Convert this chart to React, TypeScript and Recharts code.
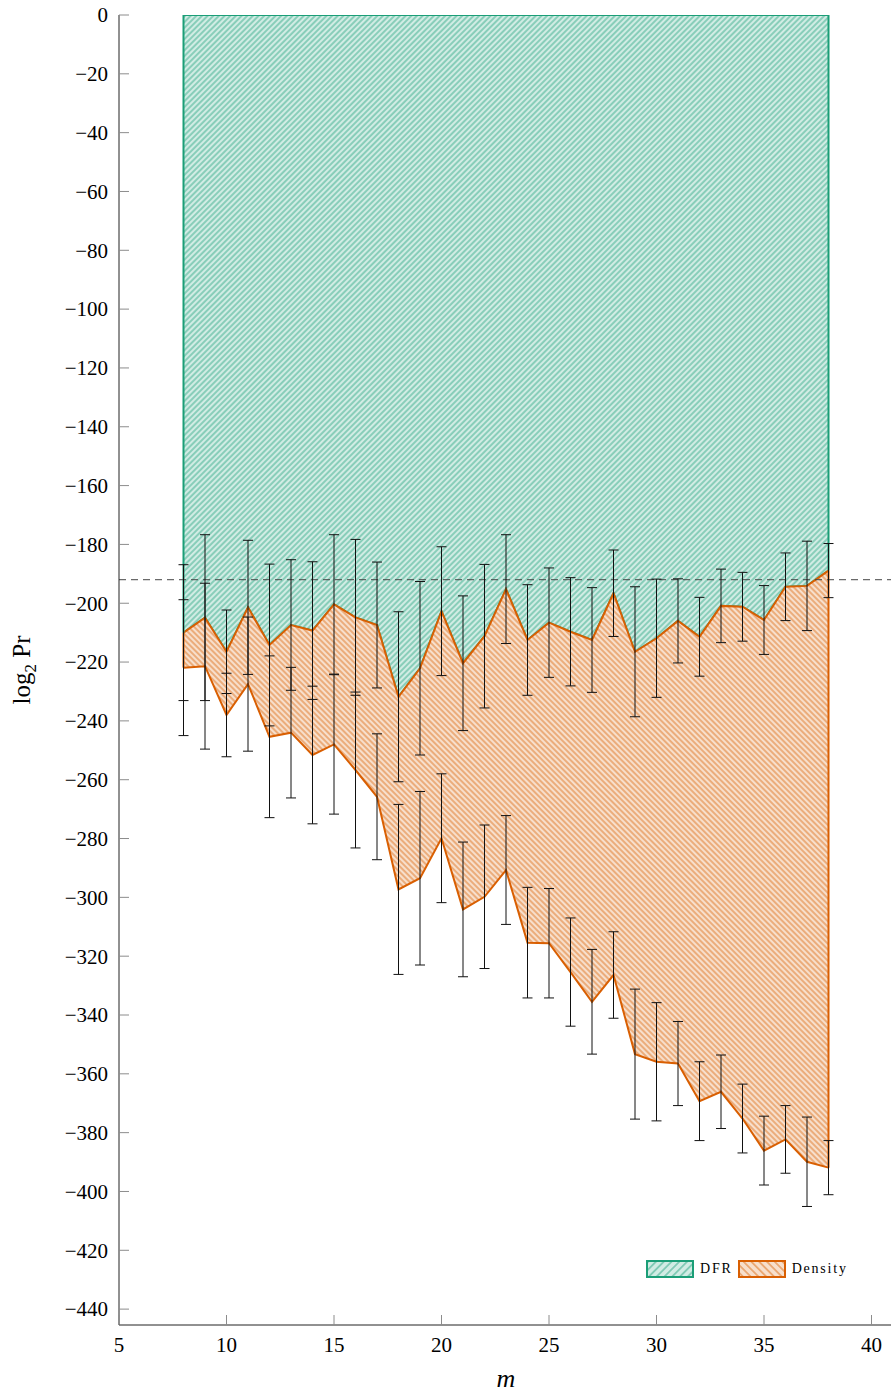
import React from "react";
import {
  ComposedChart,
  Area,
  Line,
  XAxis,
  YAxis,
  ReferenceLine,
  ErrorBar,
  Label,
} from "recharts";

// m = 8 .. 38
const mValues = [
  8, 9, 10, 11, 12, 13, 14, 15, 16, 17, 18, 19, 20, 21, 22, 23, 24, 25, 26, 27,
  28, 29, 30, 31, 32, 33, 34, 35, 36, 37, 38,
];
const dfrValues = [
  -210.0, -204.9, -216.5, -201.4, -214.2, -207.4, -209.3, -200.4, -204.8,
  -207.4, -231.8, -222.1, -202.7, -220.4, -211.2, -195.2, -212.5, -206.6,
  -209.7, -212.5, -196.6, -216.5, -211.9, -206.0, -211.4, -200.9, -201.2,
  -205.7, -194.4, -194.1, -188.9,
];
const densityValues = [
  -221.9, -221.4, -238.0, -227.5, -245.4, -244.0, -251.6, -248.0, -256.7,
  -265.8, -297.3, -293.5, -279.9, -304.1, -299.8, -290.7, -315.4, -315.6,
  -325.4, -335.5, -326.4, -353.3, -355.9, -356.5, -369.3, -366.1, -375.2,
  -386.1, -382.3, -389.9, -391.9,
];
// half height of the error bars (same for both series)
const errValues = [
  23.1, 28.2, 14.2, 22.8, 27.5, 22.2, 23.4, 23.7, 26.5, 21.4, 28.9, 29.5, 21.9,
  22.9, 24.4, 18.5, 18.8, 18.6, 18.4, 17.8, 14.7, 22.1, 20.1, 14.3, 13.4, 12.5,
  11.7, 11.7, 11.5, 15.2, 9.2,
];
const xTicks = [5, 10, 15, 20, 25, 30, 35, 40];
const yTicks = [
  0, -20, -40, -60, -80, -100, -120, -140, -160, -180, -200, -220, -240, -260,
  -280, -300, -320, -340, -360, -380, -400, -420, -440,
];
const dashedLevel = -192;

const GREEN = "#1b9e77";
const GREEN_FILL = "#d1ece4";
const ORANGE = "#d95f02";
const ORANGE_FILL = "#f7dfcc";
const FONT = "'Liberation Serif', 'DejaVu Serif', serif";

const data = mValues.map((m, i) => ({
  m,
  dfr: dfrValues[i],
  density: densityValues[i],
  err: errValues[i],
  dfrBand: [0, dfrValues[i]],
  densityBand: [densityValues[i], dfrValues[i]],
}));

const first = data[0];
const last = data[data.length - 1];

const fmt = (v: number) => (v < 0 ? "\u2212" + Math.abs(v) : String(v));

const LeftTick = (props: any) => {
  const { x, y, payload } = props;
  return (
    <g>
      <line x1={x + 11} x2={x + 21} y1={y} y2={y} stroke="#8c8c8c" />
      <text
        x={x}
        y={y}
        dy="0.35em"
        textAnchor="end"
        fontSize={21}
        fontFamily={FONT}
        fill="#000"
      >
        {fmt(payload.value)}
      </text>
    </g>
  );
};

const RightTick = (props: any) => {
  const { x, y } = props;
  return <line x1={x - 10} x2={x} y1={y} y2={y} stroke="#8c8c8c" />;
};

const BottomTick = (props: any) => {
  const { x, y, payload } = props;
  return (
    <g>
      <line x1={x} x2={x} y1={y - 12} y2={y - 22} stroke="#8c8c8c" />
      <text
        x={x}
        y={y}
        dy="0.71em"
        textAnchor="middle"
        fontSize={21}
        fontFamily={FONT}
        fill="#000"
      >
        {payload.value}
      </text>
    </g>
  );
};

const TopTick = (props: any) => {
  const { x, y } = props;
  return <line x1={x} x2={x} y1={y} y2={y + 10} stroke="#8c8c8c" />;
};

const Hatch = ({ id, color, bg, angle, size = 4 }: any) => (
  <pattern
    id={id}
    patternUnits="userSpaceOnUse"
    width={size}
    height={size}
    patternTransform={`rotate(${angle})`}
  >
    <rect width={size} height={size} fill={bg} />
    <line
      x1={size / 2}
      y1={0}
      x2={size / 2}
      y2={size}
      stroke={color}
      strokeWidth={0.8}
    />
  </pattern>
);

const Swatch = ({ id, color, bg, angle }: any) => (
  <svg width={48} height={18} style={{ display: "block" }}>
    <defs>
      <Hatch id={id} color={color} bg={bg} angle={angle} size={5.5} />
    </defs>
    <rect
      x={1}
      y={1}
      width={46}
      height={16}
      fill={`url(#${id})`}
      stroke={color}
      strokeWidth={2}
    />
  </svg>
);

export default function App() {
  return (
    <div
      style={{
        position: "absolute",
        left: 0,
        top: 0,
        width: 891,
        height: 1394,
        overflow: "hidden",
        background: "#fff",
      }}
    >
      <ComposedChart
        width={900}
        height={1394}
        data={data}
        margin={{ top: 15, right: 7, bottom: 0, left: 0 }}
      >
        <defs>
          <Hatch id="hatchGreen" color={GREEN} bg={GREEN_FILL} angle={45} />
          <Hatch id="hatchOrange" color={ORANGE} bg={ORANGE_FILL} angle={-45} />
        </defs>
        <XAxis
          dataKey="m"
          type="number"
          domain={[5, 41]}
          ticks={xTicks}
          allowDataOverflow
          height={69}
          tickSize={0}
          tickMargin={12}
          tickLine={false}
          tick={<BottomTick />}
          axisLine={{ stroke: "#222" }}
        >
          <Label
            content={(p: any) => {
              const vb = p.viewBox;
              return (
                <text
                  x={vb.x + vb.width / 2}
                  y={1387}
                  textAnchor="middle"
                  fontSize={26}
                  fontStyle="italic"
                  fontFamily={FONT}
                  fill="#000"
                >
                  m
                </text>
              );
            }}
          />
        </XAxis>
        <XAxis
          xAxisId="t"
          dataKey="m"
          type="number"
          orientation="top"
          domain={[5, 41]}
          ticks={xTicks}
          allowDataOverflow
          height={0}
          tickSize={0}
          tickMargin={0}
          tickLine={false}
          tick={<TopTick />}
          axisLine={{ stroke: "#222" }}
        />
        <YAxis
          type="number"
          domain={[-445.4, 0]}
          ticks={yTicks}
          allowDataOverflow
          width={119}
          tickSize={0}
          tickMargin={11}
          tickLine={false}
          tick={<LeftTick />}
          axisLine={{ stroke: "#222" }}
        >
          <Label
            content={(p: any) => {
              const vb = p.viewBox;
              const cx = 30;
              const cy = vb.y + vb.height / 2;
              return (
                <text
                  x={cx}
                  y={cy}
                  transform={`rotate(-90 ${cx} ${cy})`}
                  textAnchor="middle"
                  fontSize={25}
                  fontFamily={FONT}
                  fill="#000"
                >
                  log
                  <tspan dy={6} fontSize={17}>
                    2
                  </tspan>
                  <tspan dy={-6}> Pr</tspan>
                </text>
              );
            }}
          />
        </YAxis>
        <YAxis
          yAxisId="r"
          orientation="right"
          type="number"
          domain={[-445.4, 0]}
          ticks={yTicks}
          allowDataOverflow
          width={0}
          tickSize={0}
          tickMargin={0}
          tickLine={false}
          tick={<RightTick />}
          axisLine={{ stroke: "#222" }}
        />

        <Area
          type="linear"
          dataKey="dfrBand"
          stroke={GREEN}
          strokeWidth={2}
          fill="url(#hatchGreen)"
          fillOpacity={1}
          dot={false}
          activeDot={false}
          isAnimationActive={false}
        />
        <Area
          type="linear"
          dataKey="densityBand"
          stroke={ORANGE}
          strokeWidth={2}
          fill="url(#hatchOrange)"
          fillOpacity={1}
          dot={false}
          activeDot={false}
          isAnimationActive={false}
        />

        <ReferenceLine
          segment={[
            { x: first.m, y: 0 },
            { x: first.m, y: first.dfr },
          ]}
          stroke={GREEN}
          strokeWidth={2}
        />
        <ReferenceLine
          segment={[
            { x: last.m, y: 0 },
            { x: last.m, y: last.dfr },
          ]}
          stroke={GREEN}
          strokeWidth={2}
        />
        <ReferenceLine
          segment={[
            { x: first.m, y: first.dfr },
            { x: first.m, y: first.density },
          ]}
          stroke={ORANGE}
          strokeWidth={2}
        />
        <ReferenceLine
          segment={[
            { x: last.m, y: last.dfr },
            { x: last.m, y: last.density },
          ]}
          stroke={ORANGE}
          strokeWidth={2}
        />

        <ReferenceLine
          y={dashedLevel}
          stroke="#444"
          strokeWidth={1}
          strokeDasharray="7 5"
        />

        <Line
          dataKey="dfr"
          stroke="none"
          dot={false}
          activeDot={false}
          isAnimationActive={false}
        >
          <ErrorBar
            dataKey="err"
            width={5}
            stroke="#111"
            strokeWidth={1}
            direction="y"
            isAnimationActive={false}
          />
        </Line>
        <Line
          dataKey="density"
          stroke="none"
          dot={false}
          activeDot={false}
          isAnimationActive={false}
        >
          <ErrorBar
            dataKey="err"
            width={5}
            stroke="#111"
            strokeWidth={1}
            direction="y"
            isAnimationActive={false}
          />
        </Line>
      </ComposedChart>

      <div
        style={{
          position: "absolute",
          left: 646,
          top: 1260,
          display: "flex",
          alignItems: "center",
          fontFamily: FONT,
          fontSize: 14,
          letterSpacing: 1.8,
          color: "#000",
        }}
      >
        <Swatch id="legGreen" color={GREEN} bg={GREEN_FILL} angle={45} />
        <span style={{ marginLeft: 6, marginRight: 5 }}>DFR</span>
        <Swatch id="legOrange" color={ORANGE} bg={ORANGE_FILL} angle={-45} />
        <span style={{ marginLeft: 6 }}>Density</span>
      </div>
    </div>
  );
}
